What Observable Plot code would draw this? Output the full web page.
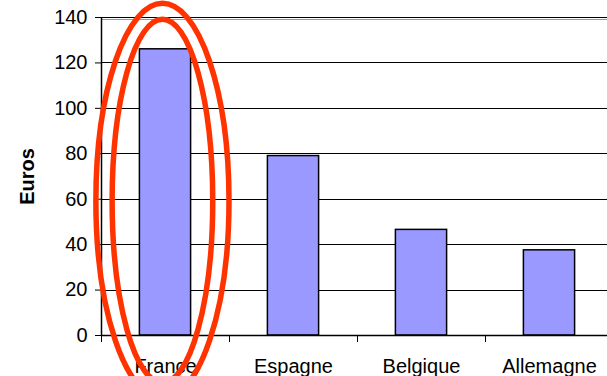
<!DOCTYPE html>
<html>
<head>
<meta charset="utf-8">
<script src="https://cdn.jsdelivr.net/npm/d3@7"></script>
<script src="https://cdn.jsdelivr.net/npm/@observablehq/plot@0.6"></script>
<style>
  html, body { margin: 0; padding: 0; background: #fff; overflow: hidden; }
  #chart svg { display: block; font-family: "Liberation Sans", Arial, sans-serif; }
</style>
</head>
<body>
<div id="chart"></div>
<script>
// Spending per country, in euros
const categories = ["France", "Espagne", "Belgique", "Allemagne"];
const values = [126, 79, 46.5, 37.5];
const yTicks = [0, 20, 40, 60, 80, 100, 120, 140];
const yLabel = "Euros";

// Highlight rings around the first country (centre and radii in data units)
const highlightCenter = {x: 0.48, y: 59};
const highlightRings = [
  {rx: 0.52, ry: 87},
  {rx: 0.393, ry: 80}
];

const data = categories.map((name, i) => ({i, name, value: values[i]}));
const slots = d3.range(categories.length + 1);

function rings(index, scales) {
  const ns = "http://www.w3.org/2000/svg";
  const g = document.createElementNS(ns, "g");
  const cx = scales.x(highlightCenter.x);
  const cy = scales.y(highlightCenter.y);
  for (const r of highlightRings) {
    const e = document.createElementNS(ns, "ellipse");
    e.setAttribute("cx", cx);
    e.setAttribute("cy", cy);
    e.setAttribute("rx", scales.x(highlightCenter.x + r.rx) - cx);
    e.setAttribute("ry", cy - scales.y(highlightCenter.y + r.ry));
    e.setAttribute("fill", "none");
    e.setAttribute("stroke", "#ff3300");
    e.setAttribute("stroke-width", 5.5);
    g.appendChild(e);
  }
  return g;
}

const chart = Plot.plot({
  width: 607,
  height: 376,
  marginLeft: 101,
  marginRight: 0,
  marginTop: 17,
  marginBottom: 41,
  style: {fontFamily: "Liberation Sans, Arial, sans-serif", fontSize: "20px", color: "#000", background: "#fff"},
  x: {
    domain: [0, categories.length],
    range: [101, 613],
    ticks: slots,
    tickFormat: () => "",
    tickSize: 7,
    label: null
  },
  y: {
    domain: [0, 140],
    ticks: yTicks,
    tickSize: 6,
    tickPadding: 8,
    label: null
  },
  marks: [
    // horizontal gridlines, with a soft shadow under the top one
    Plot.ruleY([140], {stroke: "#999", strokeWidth: 1, dy: 1.5, shapeRendering: "crispEdges"}),
    Plot.ruleY(yTicks, {stroke: "#000", strokeWidth: 1, shapeRendering: "crispEdges"}),
    Plot.rectY(data, {
      x1: d => d.i + 0.3,
      x2: d => d.i + 0.7,
      y: "value",
      fill: "#9999ff",
      stroke: "#000",
      strokeWidth: 1.5
    }),
    Plot.ruleX([0], {y1: 0, y2: 140, stroke: "#000", strokeWidth: 1.5}),
    Plot.ruleY([0], {stroke: "#000", strokeWidth: 1.5}),
    Plot.text(data, {
      x: d => d.i + 0.5,
      y: 0,
      text: "name",
      dy: 23,
      lineAnchor: "top",
      fontSize: 20,
      fill: "#000"
    }),
    Plot.text([yLabel], {
      frameAnchor: "left",
      textAnchor: "middle",
      dx: -74,
      text: d => d,
      rotate: -90,
      fontSize: 20,
      fontWeight: "bold",
      fill: "#000"
    }),
    rings
  ]
});

document.getElementById("chart").appendChild(chart);
</script>
</body>
</html>
